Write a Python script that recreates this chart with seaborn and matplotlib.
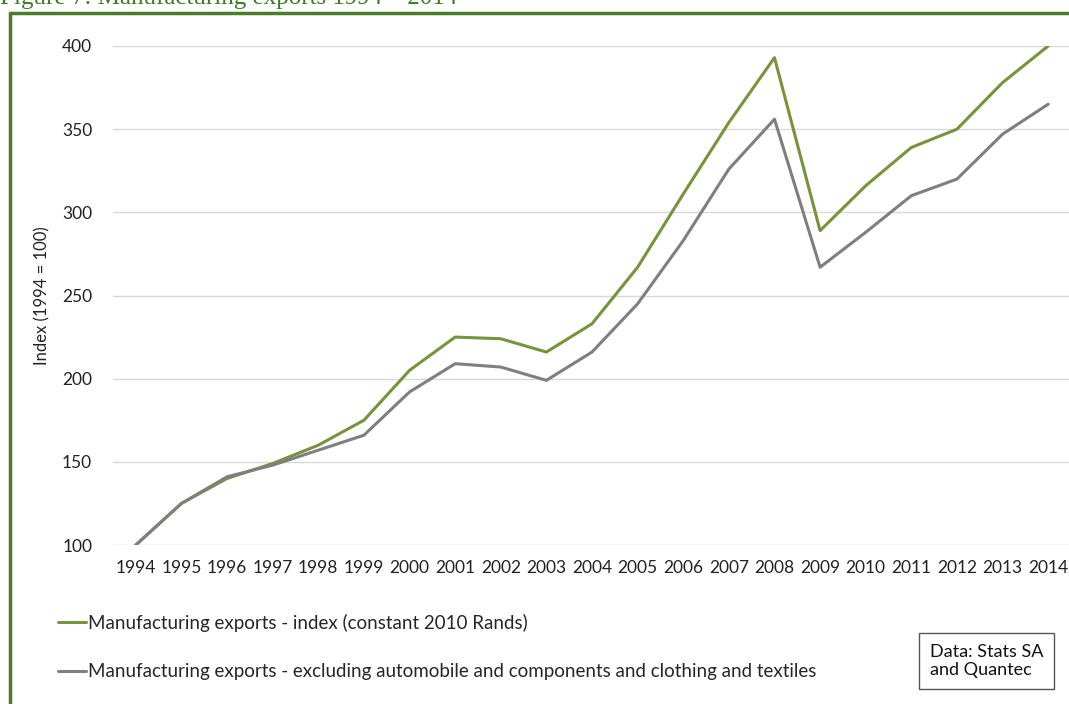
import matplotlib
matplotlib.use("Agg")
import matplotlib.pyplot as plt
from matplotlib.lines import Line2D
import seaborn as sns
import pandas as pd

years = list(range(1994, 2015))
total_index = [100, 125, 140, 149, 160, 175, 205, 225, 224, 216, 233, 267, 311, 354, 393,
               289, 316, 339, 350, 378, 400]
excl_index = [100, 125, 141, 148, 157, 166, 192, 209, 207, 199, 216, 245, 283, 326, 356,
              267, 288, 310, 320, 347, 365]
series_names = ["Manufacturing exports - index (constant 2010 Rands)",
                "Manufacturing exports - excluding automobile and components and clothing and textiles"]
y_ticks = [100, 150, 200, 250, 300, 350, 400]
title = "Figure 7: Manufacturing exports 1994 \u2013 2014"
ylabel = "Index (1994 = 100)"
source_note = "Data: Stats SA\nand Quantec"

df = pd.concat([
    pd.DataFrame({"year": years, "value": total_index, "series": series_names[0]}),
    pd.DataFrame({"year": years, "value": excl_index, "series": series_names[1]}),
])

sns.set_theme(style="white")
plt.rcParams["font.family"] = ["Lato", "DejaVu Sans"]

W, H = 1069, 704
fig = plt.figure(figsize=(W / 100, H / 100), dpi=100)
ax = fig.add_axes([113 / W, 1 - 545 / H, (1071 - 113) / W, (545 - 46) / H])

palette = {series_names[0]: "#77933C", series_names[1]: "#7F7F7F"}
sns.lineplot(data=df, x="year", y="value", hue="series", palette=palette,
             linewidth=2.2, ax=ax, legend=False)

ax.set_xlim(1993.5, 2014.5)
ax.set_ylim(100, 400)
ax.set_yticks(y_ticks)
ax.set_xticks(years)
ax.set_xticklabels([str(y) for y in years])
ax.grid(axis="y", color="#D9D9D9", linewidth=1)
ax.set_axisbelow(True)
for s in ax.spines.values():
    s.set_visible(False)
ax.tick_params(axis="both", length=0, labelsize=12.5, colors="#222222")
ax.tick_params(axis="x", pad=11)
ax.tick_params(axis="y", pad=15)
ax.set_xlabel("")
ax.set_ylabel(ylabel, fontsize=12, color="#222222", labelpad=8)

handles = [Line2D([0], [0], color=palette[n], linewidth=2.2) for n in series_names]
fig.legend(handles, series_names, loc="upper left", bbox_to_anchor=(50 / W, 1 - 606 / H),
           frameon=False, fontsize=13.5, handlelength=1.5, handletextpad=0.1,
           labelspacing=1.7, borderaxespad=0)

fig.text(930 / W, 1 - 661 / H, source_note, fontsize=13, color="#111111",
         ha="left", va="center", linespacing=1.2,
         bbox=dict(boxstyle="square,pad=0.6", fc="white", ec="#555555", lw=1))

fig.text(0.0, 1 - 4 / H, title, fontsize=18, color="#3C7A23",
         family=["Liberation Serif", "DejaVu Serif"], ha="left", va="baseline")

border = "#4A7D2A"
fig.add_artist(Line2D([10 / W, 10 / W], [0, 1 - 13 / H], color=border, linewidth=2.5,
                      transform=fig.transFigure))
fig.add_artist(Line2D([10 / W, 1], [1 - 13 / H, 1 - 13 / H], color=border, linewidth=2.5,
                      transform=fig.transFigure))

fig.savefig("out.png", dpi=100, facecolor="white")
